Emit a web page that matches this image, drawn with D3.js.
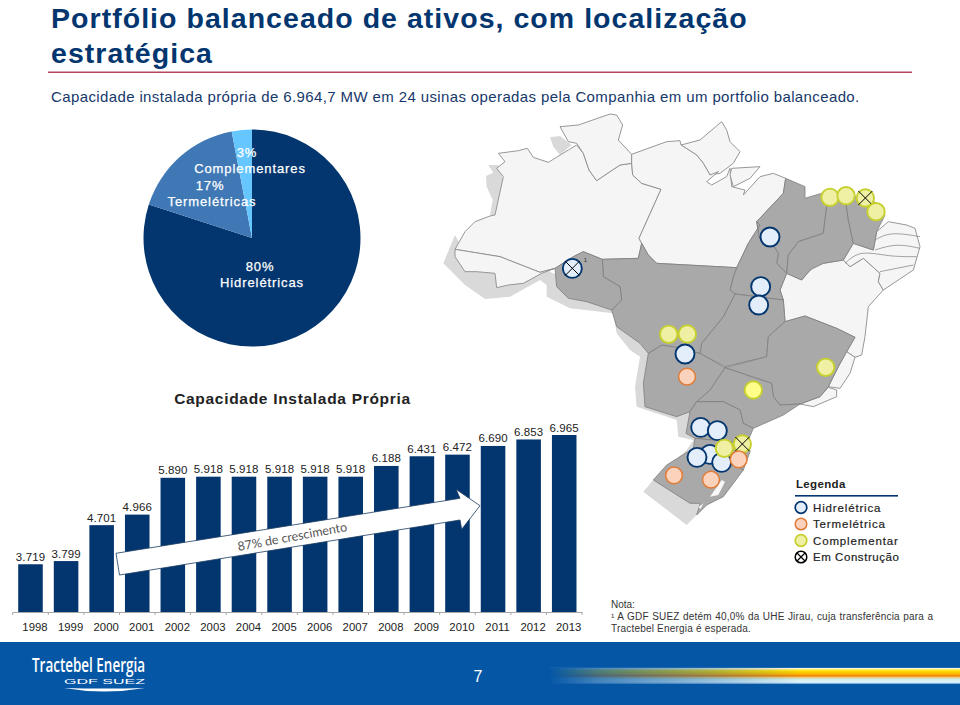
<!DOCTYPE html>
<html><head><meta charset="utf-8">
<script src="https://cdn.jsdelivr.net/npm/d3@7"></script>
<style>html,body{margin:0;padding:0;background:#fff}svg{display:block}text{font-family:"Liberation Sans",Arial,sans-serif}</style>
</head><body><svg id="c" width="960" height="705"></svg>
<script>
// ---- data ----
const years = ["1998","1999","2000","2001","2002","2003","2004","2005","2006","2007","2008","2009","2010","2011","2012","2013"];
const capacity = [3719,3799,4701,4966,5890,5918,5918,5918,5918,5918,6188,6431,6472,6690,6853,6965];
const mixNames = ["Hidrelétricas","Termelétricas","Complementares"];
const mixShare = [80,17,3];
const legendNames = ["Hidrelétrica","Termelétrica","Complementar","Em Construção"];
// map geometry (map units = 3 x page pixels)
const regionsLight = [
 [[175,160],[235,152],[262,145],[280,172],[325,187],[385,150],[410,135],[430,160],[447,210],[470,242],[510,215],[540,195],[575,190],[578,225],[605,250],[663,268],[597,415],[605,430],[595,475],[487,478],[430,455],[400,470],[345,505],[300,517],[180,470],[45,448],[75,395],[105,365],[150,348],[165,345],[190,230],[170,205],[195,185]],
 [[45,448],[180,470],[300,517],[345,505],[305,520],[250,550],[205,555],[170,563],[165,520],[110,515],[75,515],[45,470]],
 [[360,80],[415,75],[510,42],[530,45],[548,75],[535,120],[575,163],[575,190],[540,195],[510,215],[470,242],[447,210],[430,160],[410,130],[385,125]],
 [[723,135],[780,120],[845,65],[860,90],[870,125],[900,155],[880,190],[840,220],[810,225],[790,190],[770,165]],
 [[575,163],[680,125],[720,122],[723,135],[770,165],[790,190],[810,225],[835,215],[800,245],[815,255],[860,230],[870,205],[875,260],[915,270],[910,285],[960,230],[1000,220],[1037,235],[1030,280],[950,365],[960,375],[925,430],[890,503],[650,490],[625,465],[605,430],[597,415],[663,268],[605,250],[578,225],[575,190]],
 [[875,205],[960,200],[930,235],[880,260],[870,225]],
 [[1040,520],[1085,540],[1120,500],[1150,490],[1210,480],[1230,500],[1270,475],[1320,520],[1315,545],[1330,570],[1285,620],[1275,710],[1265,765],[1245,772],[1220,755],[1245,712],[1190,685],[1095,648],[1035,665],[1030,600],[1020,570]],
 [[1300,450],[1310,395],[1345,365],[1400,375],[1425,385],[1440,440],[1420,510],[1330,570],[1315,545],[1320,520],[1270,475],[1230,500],[1210,480],[1240,430]],
 [[1220,755],[1245,772],[1230,820],[1200,865],[1165,860],[1195,800]],
 [[1080,912],[1140,890],[1165,862],[1190,870],[1190,890],[1120,920]]
];
const regionsDark = [
 [[1037,235],[1095,260],[1095,295],[1145,280],[1160,320],[1150,400],[1075,425],[1045,465],[1040,520],[1010,490],[1015,460],[990,420],[958,415],[950,365],[1030,280]],
 [[1150,400],[1160,320],[1145,280],[1215,290],[1225,360],[1240,430],[1210,480],[1150,490],[1110,510],[1085,540],[1040,520],[1045,465],[1075,425]],
 [[1215,290],[1290,290],[1335,345],[1310,395],[1300,450],[1240,430],[1225,360]],
 [[950,365],[958,415],[990,420],[1015,460],[1010,490],[1040,520],[1020,570],[1030,600],[885,582],[870,570],[880,530],[890,503],[925,430],[960,375]],
 [[885,582],[1030,600],[1035,665],[985,710],[980,770],[855,800],[780,760],[785,730],[850,650]],
 [[1035,665],[1095,648],[1190,685],[1245,712],[1220,755],[1195,800],[1165,860],[1140,890],[1080,912],[1020,915],[1000,890],[995,850],[920,825],[855,803],[980,770],[985,710]],
 [[855,803],[920,825],[995,850],[1000,890],[1020,915],[1080,912],[1030,945],[940,985],[910,970],[900,930],[850,905],[770,905],[810,870]],
 [[625,760],[665,735],[700,740],[780,760],[855,803],[810,870],[770,905],[750,935],[710,950],[615,920],[610,850]],
 [[487,478],[595,475],[605,430],[625,465],[650,490],[890,503],[880,530],[870,570],[885,582],[850,650],[785,730],[780,760],[700,740],[665,735],[625,760],[600,730],[530,680],[515,630],[545,600],[540,560],[490,530]],
 [[345,505],[400,470],[430,455],[487,478],[490,530],[540,560],[545,600],[515,630],[440,605],[385,595],[350,560]],
 [[750,935],[770,905],[850,905],[900,930],[910,970],[940,985],[925,1020],[870,1025],[765,1015],[738,1000]],
 [[765,1015],[870,1025],[925,1020],[930,1055],[910,1110],[880,1090],[810,1040],[760,1045]],
 [[760,1045],[810,1040],[880,1090],[910,1110],[850,1190],[800,1215],[770,1245],[780,1210],[750,1210],[640,1140],[680,1095]]
];
const shadowParts = [
 [[330,112],[360,108],[395,135],[360,165],[340,140]],
 [[145,195],[175,195],[190,240],[185,300],[165,345],[150,345],[158,300],[140,260],[138,228],[160,218]],
 [[45,405],[10,490],[40,520],[75,555],[135,597],[210,590],[300,540],[320,555],[320,590],[390,625],[520,640],[530,700],[570,750],[600,770],[585,860],[590,920],[710,960],[715,1010],[760,1020],[740,1050],[640,1140],[610,1175],[740,1275],[770,1245],[800,1100],[800,950],[700,800],[500,600],[300,500],[80,470]],
 [[785,125],[800,110],[815,105],[800,130]]
];
const lagoons = [[[845,1140],[855,1145],[835,1185],[810,1190]],[[790,1210],[782,1226],[775,1222]]];
const stateLines = [
 [[1305,420],[1350,395],[1440,410]],[[1305,450],[1370,430],[1440,445]],[[1215,490],[1260,450],[1345,470],[1430,470]],[[1320,515],[1420,495]]
];
const plantKinds = ["hydro","comp","comp","comp","comp","comp","comp","hydro","hydro","hydro","hydro","therm","comp","comp2","hydro","hydro","hydro","hydro","hydro","comp","comp","therm","therm","therm"];
const plantX = [397,1170,1218,1276,1308,686,742,990,962,956,735,741,1157,940,782,832,810,771,845,853,907,896,702,813];
const plantY = [505,292,287,294,335,703,702,411,560,615,762,830,802,870,982,992,1063,1072,1087,1045,1032,1078,1126,1139];
const plantBuilding = [1,0,0,1,0,0,0,0,0,0,0,0,0,0,0,0,0,0,0,0,1,0,0,0];

// ---- palette ----
const navy="#03366f", ink="#222222";
const svg=d3.select("#c");
const fmt=d3.formatLocale({decimal:",",thousands:".",grouping:[3],currency:["",""]}).format(",");
const txt=(g,s,x,y,o={})=>g.append("text").text(s).attr("x",x).attr("y",y)
  .attr("font-size",o.size||12).attr("font-weight",o.weight||"normal").attr("fill",o.fill||ink)
  .attr("text-anchor",o.anchor||"start").style("letter-spacing",(o.ls||0)+"px").style("word-spacing",(o.ws||0)+"px");

// ---- heading ----
const head=svg.append("g");
txt(head,"Portfólio balanceado de ativos, com localização",51,28,{size:28.5,weight:"bold",fill:navy,ls:1.04});
txt(head,"estratégica",51,63,{size:28.5,weight:"bold",fill:navy,ls:1.04});
head.append("rect").attr("x",48).attr("y",71.5).attr("width",864).attr("height",1.5).attr("fill","#b4465f");
txt(head,"Capacidade instalada própria de 6.964,7 MW em 24 usinas operadas pela Companhia em um portfolio balanceado.",51,102,{size:15,fill:"#16386a",ls:0.38});

// ---- map ----
const mx=d3.scaleLinear().domain([0,1470]).range([440,930]);
const my=d3.scaleLinear().domain([0,900]).range([100,400]);
const line=d3.line().x(d=>mx(d[0])).y(d=>my(d[1])).curve(d3.curveLinearClosed);
const open=d3.line().x(d=>mx(d[0])).y(d=>my(d[1])).curve(d3.curveBasis);
const map=svg.append("g");
map.selectAll(".s").data(shadowParts).join("path").attr("d",line).attr("fill","#d9d9d9");
map.selectAll(".l").data(regionsLight).join("path").attr("d",line).attr("fill","#f5f5f6").attr("stroke","#8c8c8c").attr("stroke-width",0.9).attr("stroke-linejoin","round");
map.selectAll(".d").data(regionsDark).join("path").attr("d",line).attr("fill","#a9a9a9").attr("stroke","#7e7e7e").attr("stroke-width",0.8).attr("stroke-linejoin","round");
map.selectAll(".o").data(lagoons).join("path").attr("d",line).attr("fill","#f7f7f7");
map.selectAll(".t").data(stateLines).join("path").attr("d",open).attr("fill","none").attr("stroke","#8c8c8c").attr("stroke-width",0.8);
const kinds={hydro:{r:9.5,f:"#e3eefa",s:navy,w:1.9},therm:{r:8.4,f:"#fbd2bb",s:"#e07c37",w:1.5},comp:{r:8.7,f:"#eff0a4",s:"#c6d02f",w:1.9},comp2:{r:8.7,f:"#ffff8a",s:"#c6d02f",w:1.9}};
plantKinds.forEach((k,i)=>{
  const c=kinds[k],x=mx(plantX[i]),y=my(plantY[i]);
  map.append("circle").attr("cx",x).attr("cy",y).attr("r",c.r).attr("fill",c.f).attr("stroke",c.s).attr("stroke-width",c.w);
  if(plantBuilding[i]) { const d=7; map.append("path").attr("d",`M${x-d},${y-d}L${x+d},${y+d}M${x-d},${y+d}L${x+d},${y-d}`).attr("stroke","#000").attr("stroke-width",1).attr("fill","none"); }
});
txt(map,"1",mx(431),my(487),{size:6,fill:"#333"});

// ---- pie ----
const pieG=svg.append("g").attr("transform","translate(252,238)");
const pie=d3.pie().sort(null)(mixShare);
const arc=d3.arc().innerRadius(0).outerRadius(108.5);
pieG.selectAll("path").data(pie).join("path").attr("d",arc).attr("fill",(d,i)=>[navy,"#3f78b5","#66c6ff"][i]);
const pl={size:13,anchor:"middle",fill:"#fff",ls:0.9};
const ptxt=(s,x,y)=>txt(pieG,s,x,y,pl).attr("stroke","#fff").attr("stroke-width",0.25);
ptxt(mixShare[2]+"%",-5,-81); ptxt(mixNames[2],-2,-65);
ptxt(mixShare[1]+"%",-42,-48); ptxt(mixNames[1],-40,-32);
ptxt(mixShare[0]+"%",8,33); ptxt(mixNames[0],10,49);

// ---- bars ----
const x=d3.scaleBand().domain(years).range([12.7,582]).paddingInner(0.31).paddingOuter(0.155);
const y=d3.scaleLinear().domain([2520,6965]).range([612,435]);
const bars=svg.append("g");
txt(bars,"Capacidade Instalada Própria",292.5,404,{size:15.5,weight:"bold",anchor:"middle",ls:0.7});
bars.selectAll("rect").data(years).join("rect").attr("x",d=>x(d)).attr("width",x.bandwidth())
  .attr("y",(d,i)=>y(capacity[i])).attr("height",(d,i)=>y.range()[0]-y(capacity[i])).attr("fill",navy);
bars.selectAll(".v").data(years).join("text").attr("class","v").text((d,i)=>fmt(capacity[i]))
  .attr("x",d=>x(d)+x.bandwidth()/2).attr("y",(d,i)=>y(capacity[i])-3.5).attr("text-anchor","middle")
  .attr("font-size",11.5).attr("fill",ink).style("letter-spacing","0.1px");
const axis=svg.append("g").attr("transform","translate(0,612)")
  .call(d3.axisBottom(x).tickSize(0).tickPadding(10.5));
axis.select(".domain").attr("stroke","#a8a8a8").attr("stroke-width",1);
axis.selectAll("text").attr("dx",4.5).attr("font-size",11.3).attr("fill",ink).style("font-family",'"Liberation Sans",Arial,sans-serif').style("letter-spacing","0.05px");
axis.selectAll(".edge").data(d3.range(years.length+1)).join("line").attr("class","edge")
  .attr("x1",i=>x.range()[0]+i*x.step()).attr("x2",i=>x.range()[0]+i*x.step()).attr("y1",0).attr("y2",3).attr("stroke","#a8a8a8");

// ---- growth arrow ----
const arrowG=svg.append("g");
arrowG.append("path").attr("d","M116,553.3 L119.5,575 L460,520 L461.7,529.3 L480,505.7 L456,489.3 L460,498.3 Z")
  .attr("fill","#fff").attr("stroke","#1a3a5f").attr("stroke-width",0.8);
txt(arrowG,"87% de crescimento",0,0,{size:12.5,anchor:"middle",fill:"#555"}).style("font-family","Lato").attr("transform","translate(293,541) rotate(-10.5)");

// ---- legend ----
const leg=svg.append("g");
txt(leg,"Legenda",796,488,{size:11.5,weight:"bold",ls:0.35});
leg.append("rect").attr("x",795).attr("y",495).attr("width",103).attr("height",1.6).attr("fill",navy);
const legendKinds=["hydro","therm","comp"];
const legendY=d3.scalePoint().domain(legendNames).range([507.5,557]);
legendNames.forEach((n,i)=>{
  const c=i<3?kinds[legendKinds[i]]:{f:"#fff",s:"#000",w:1.5}, cy=legendY(n);
  leg.append("circle").attr("cx",801).attr("cy",cy).attr("r",5.8).attr("fill",c.f).attr("stroke",c.s).attr("stroke-width",c.w>1.6?1.7:1.5);
  if(i==3) leg.append("path").attr("d",`M797,${cy-4}L805,${cy+4}M797,${cy+4}L805,${cy-4}`).attr("stroke","#000").attr("stroke-width",1.2);
  txt(leg,n,813,cy+4,{size:11.5,ls:i==3?0.55:0.85}).attr("stroke",ink).attr("stroke-width",0.2);
});

// ---- note ----
const nt=svg.append("g");
txt(nt,"Nota:",611,607.5,{size:10,fill:"#333"});
txt(nt,"¹ A GDF SUEZ detém 40,0% da UHE Jirau, cuja transferência para a",611,619.5,{size:10,fill:"#333",ls:0.2,ws:0.4});
txt(nt,"Tractebel Energia é esperada.",611,631.5,{size:10,fill:"#333",ls:0.2});

// ---- footer ----
const defs=svg.append("defs");
const blue="#0557a6";
const vg=defs.append("linearGradient").attr("id","band").attr("x1",0).attr("x2",0).attr("y1",0).attr("y2",1);
[[0,"#3a7cbc"],[0.06,"#fff8d0"],[0.2,"#ffe000"],[0.42,"#f8b000"],[0.5,"#ee7a10"],[0.58,"#f8c050"],[0.7,"#c8ecec"],[0.88,"#e8f6fa"],[0.95,"#a8cde8"],[1,"#4a88c8"]].forEach(s=>vg.append("stop").attr("offset",s[0]).attr("stop-color",s[1]));
const hg=defs.append("linearGradient").attr("id","fade");
[[0,1],[0.12,0.7],[0.22,0.55],[0.37,0.35],[0.51,0.15],[0.61,0]].forEach(s=>hg.append("stop").attr("offset",s[0]).attr("stop-color",blue).attr("stop-opacity",s[1]));
const ft=svg.append("g");
ft.append("rect").attr("x",0).attr("y",642).attr("width",960).attr("height",63).attr("fill",blue);
ft.append("rect").attr("x",550).attr("y",667.5).attr("width",410).attr("height",16.5).attr("fill","url(#band)");
ft.append("rect").attr("x",550).attr("y",667.5).attr("width",410).attr("height",16.5).attr("fill","url(#fade)");
txt(ft,"Tractebel Energia",32,672,{size:19,fill:"#fff",weight:"600"}).style("font-family","Open Sans").attr("textLength",113).attr("lengthAdjust","spacingAndGlyphs");
txt(ft,"GDF SUEZ",64,684,{size:8,fill:"#fff"}).attr("textLength",81).attr("lengthAdjust","spacingAndGlyphs");
ft.append("path").attr("d","M64,688 Q104,689 145,688 Q104,695 64,688Z").attr("fill","#fff");
txt(ft,"7",478,682,{size:16,fill:"#fff",anchor:"middle"});
</script></body></html>
